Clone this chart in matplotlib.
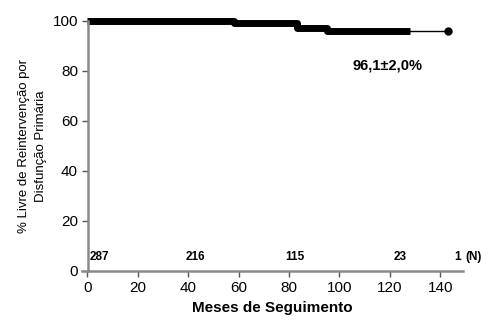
import numpy as np
import matplotlib.pyplot as plt

plt.rcParams['font.family'] = ['Liberation Sans', 'DejaVu Sans']

# Kaplan-Meier curve
km_time = [0, 58, 83, 95, 128]
km_surv = [100, 99.2, 97.3, 96.1, 96.1]
last_time = 143
last_surv = 96.1

# numbers at risk
risk_x = [5, 43, 82.5, 124, 147]
risk_n = ['287', '216', '115', '23', '1']

fig = plt.figure(figsize=(4.89, 3.28), dpi=100)
ax = fig.add_axes([0.168, 0.174, 0.779, 0.762])

# thick part (dense censoring marks)
ax.step(km_time, km_surv, where='post', color='black', lw=5, clip_on=False,
        solid_capstyle='butt')
# thin tail up to last patient
ax.plot([km_time[-1], last_time], [km_surv[-1], last_surv], color='black', lw=1, clip_on=False)
ax.plot([last_time], [last_surv], 'o', color='black', ms=5, clip_on=False)

ax.text(119, 82, '96,1\u00b12,0%', fontsize=10.5, fontweight='bold', ha='center', va='center')

for x, n in zip(risk_x, risk_n):
    ax.text(x, 3, n, fontsize=8.5, fontweight='bold', ha='center', va='bottom')
ax.text(150, 3, '(N)', fontsize=8.5, fontweight='bold', ha='left', va='bottom')

ax.set_xlim(-2, 149)
ax.set_ylim(0, 100)
ax.set_xticks(np.arange(0, 141, 20))
ax.set_yticks(np.arange(0, 101, 20))
ax.spines['top'].set_visible(False)
ax.spines['right'].set_visible(False)
ax.spines['left'].set_position(('data', 0.5))
for s in ['left', 'bottom']:
    ax.spines[s].set_color('#8a8a8a')
    ax.spines[s].set_linewidth(1.8)
ax.tick_params(direction='out', length=4, width=1, color='#555555', labelsize=11)

ax.set_xlabel('Meses de Seguimento', fontsize=11, fontweight='bold', labelpad=4)
ax.set_ylabel('% Livre de Reintervenção por\nDisfunção Primária', fontsize=9.5,
              labelpad=4, linespacing=1.5)

fig.savefig('out.png', dpi=100)
